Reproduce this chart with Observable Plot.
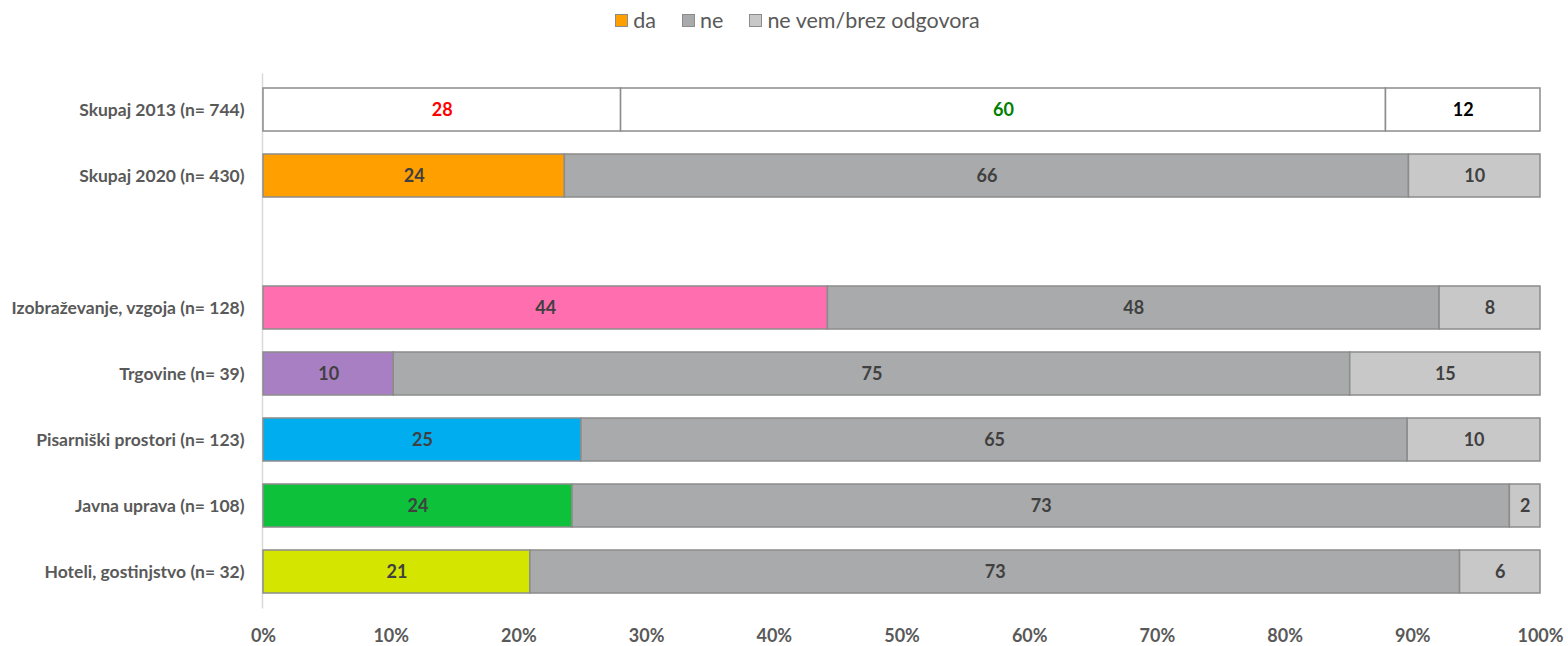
<!DOCTYPE html>
<html>
<head>
<meta charset="utf-8">
<script src="https://cdn.jsdelivr.net/npm/d3@7"></script>
<script src="https://cdn.jsdelivr.net/npm/@observablehq/plot@0.6"></script>
<style>
  body { margin: 0; background: #fff; font-family: Lato, "Open Sans", sans-serif; }
  #legend { height: 40px; display: flex; justify-content: center; align-items: center; gap: 26px; font-size: 21.5px; color: #595959; padding-left: 27px; box-sizing: border-box; }
  #legend .item { display: flex; align-items: center; gap: 5px; }
  #legend .sw { width: 13px; height: 13px; border: 1.5px solid #8c8c8c; box-sizing: border-box; }
  svg { display: block; }
</style>
</head>
<body>
<div id="legend"></div>
<div id="chart"></div>
<script>
const categories = [
  "Skupaj 2013 (n= 744)",
  "Skupaj 2020 (n= 430)",
  " ",
  "Izobraževanje, vzgoja (n= 128)",
  "Trgovine (n= 39)",
  "Pisarniški prostori (n= 123)",
  "Javna uprava (n= 108)",
  "Hoteli, gostinjstvo (n= 32)"
];
const da    = [28.0, 23.6, null, 44.2, 10.2, 24.9, 24.2, 20.9];
const ne    = [59.9, 66.1, null, 47.9, 74.9, 64.7, 73.4, 72.8];
const nevem = [12.1, 10.3, null,  7.9, 14.9, 10.4,  2.4,  6.3];
const daColors = ["#FFFFFF", "#FF9F00", null, "#FF6FAF", "#A97FC4", "#00AEEF", "#0DC13A", "#D4E600"];
const neColors = ["#FFFFFF", "#A9AAAB", null, "#A9AAAB", "#A9AAAB", "#A9AAAB", "#A9AAAB", "#A9AAAB"];
const nevemColors = ["#FFFFFF", "#C8C8C8", null, "#C8C8C8", "#C8C8C8", "#C8C8C8", "#C8C8C8", "#C8C8C8"];
const labelColors2013 = ["#FF0000", "#008000", "#000000"];
const seriesNames = ["da", "ne", "ne vem/brez odgovora"];
const legendColors = ["#FF9F00", "#A9AAAB", "#C8C8C8"];
const xTicks = [0, 10, 20, 30, 40, 50, 60, 70, 80, 90, 100];

const rows = [];
categories.forEach((c, i) => {
  if (da[i] == null) return;
  const vals = [da[i], ne[i], nevem[i]];
  const fills = [daColors[i], neColors[i], nevemColors[i]];
  vals.forEach((v, k) => {
    rows.push({
      cat: c, series: seriesNames[k], order: k, value: v, fill: fills[k],
      label: String(Math.round(v)),
      labelColor: i === 0 ? labelColors2013[k] : "#404040"
    });
  });
});

// legend
const leg = document.getElementById("legend");
seriesNames.forEach((s, k) => {
  const it = document.createElement("div");
  it.className = "item";
  it.innerHTML = `<span class="sw" style="background:${legendColors[k]}"></span><span>${s}</span>`;
  leg.appendChild(it);
});

const chart = Plot.plot({
  width: 1568,
  height: 606,
  marginLeft: 263,
  marginRight: 28,
  marginTop: 33.5,
  marginBottom: 37.5,
  style: { fontFamily: "Lato, 'Open Sans', sans-serif", background: "#fff" },
  x: { domain: [0, 100], ticks: xTicks, tickFormat: d => d + "%", label: null, tickSize: 0, tickPadding: 20 },
  y: { domain: categories, label: null, paddingInner: 0.343, paddingOuter: 0.1715, tickSize: 0, tickPadding: 19 },
  color: { type: "identity" },
  marks: [
    Plot.ruleX([0], { stroke: "#d9d9d9", strokeWidth: 1.5, dx: -1 }),
    Plot.barX(rows, {
      x: "value", y: "cat", fill: "fill", order: "order",
      stroke: "#8c8c8c", strokeWidth: 1.5
    }),
    Plot.text(rows, Plot.stackX({
      x: "value", y: "cat", order: "order", text: "label", fill: "labelColor",
      fontWeight: "bold", fontSize: 18
    })),
    Plot.axisX({ ticks: xTicks, tickFormat: d => d + "%", tickSize: 0, tickPadding: 20, fontWeight: "bold", fontSize: 18, fill: "#595959", label: null }),
    Plot.axisY({ tickSize: 0, tickPadding: 19, fontWeight: "bold", fontSize: 17.5, fill: "#595959", label: null, tickFormat: d => d.trim() })
  ]
});
document.getElementById("chart").appendChild(chart);
</script>
</body>
</html>
